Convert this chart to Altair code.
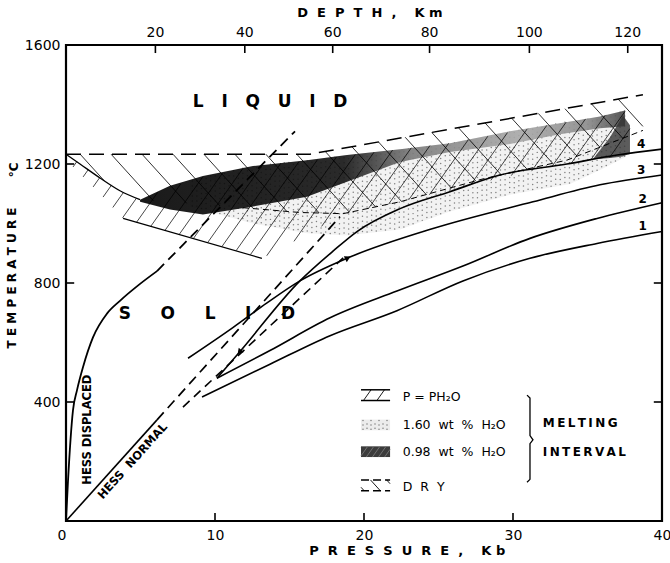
import math
import numpy as np
import pandas as pd
import altair as alt

FONT = "DejaVu Sans"
NB = "\u00a0"

# ---------------- axis data ----------------
P_LABELS = [0, 10, 20, 30, 40]
T_LABELS = [400, 800, 1200, 1600]
P_INNER_TICKS = [10, 20, 30]
T_INNER_TICKS = [400, 800, 1200]
DEPTH_LABELS = ["20", "40", "60", "80", "100", "120"]
DEPTH_P = [6.0, 12.0, 17.9, 24.4, 31.1, 37.7]

# ---------------- curves (pressure kb, temperature C) ----------------
HD_P = [0, 0.13, 0.47, 0.74, 1.14, 1.81, 2.75, 3.62, 4.97, 6.11]
HD_T = [0, 130, 373, 440, 517, 617, 697, 740, 797, 840]
HD_EXT_P = [6.11, 15.37]
HD_EXT_T = [840, 1310]
HN_P = [0, 6.11]
HN_T = [0, 340]
HN_EXT_P = [6.11, 18.39]
HN_EXT_T = [340, 1023]
B_P = [7.85, 18.72]
B_T = [383, 890]
C1_P = [9.13, 13.69, 17.72, 22.21, 26.64, 31.14, 35.64, 40]
C1_T = [417, 527, 623, 707, 807, 883, 933, 973]
C2_P = [10.13, 13.69, 17.72, 22.21, 26.64, 31.14, 35.64, 40]
C2_T = [480, 573, 683, 773, 857, 950, 1017, 1070]
C3_P = [8.19, 11.2, 13.49, 15.7, 18.86, 24.63, 31.34, 35.84, 40]
C3_T = [547, 650, 733, 807, 883, 983, 1073, 1130, 1163]
C4_P = [10.13, 11.68, 15.7, 17.92, 19.53, 22.42, 25.77, 29.13, 33.62, 36.98, 40]
C4_T = [480, 570, 807, 907, 973, 1050, 1107, 1163, 1200, 1230, 1250]
CURVE_NUM = ["1", "2", "3", "4"]
CURVE_NUM_P = [38.7, 38.7, 38.6, 38.6]
CURVE_NUM_T = [990, 1083, 1180, 1267]

DRY_LIQ_P = [0, 16.38, 38.72]
DRY_LIQ_T = [1233, 1233, 1433]
DRY_SOL_P = [11.88, 15.7, 18.59, 22.42, 27.99, 33.62, 38.72]
DRY_SOL_T = [1053, 1037, 1033, 1073, 1150, 1213, 1313]
WET_LIQ_P = [0, 0.94, 2.28, 3.62, 4.97]
WET_LIQ_T = [1233, 1200, 1153, 1110, 1080]
WET_SOL_P = [3.83, 13.15]
WET_SOL_T = [1017, 883]

# ---------------- melting intervals ----------------
DRY_P = [0, 0.94, 2.28, 3.62, 4.97, 11.88, 15.7, 16.38, 18.59, 22.42, 27.99, 33.62, 38.72]
DRY_TOP = [1233, 1233, 1233, 1233, 1233, 1233, 1233, 1233, 1253, 1287, 1337, 1387, 1433]
DRY_BOT = [1233, 1200, 1153, 1110, 1080, 1053, 1037, 1036, 1033, 1073, 1150, 1213, 1313]

WET_P = [0, 0.94, 2.28, 3.83, 4.97, 6.98, 9.19, 12.55, 13.15, 16.17, 18.59, 22.42, 25.77, 29.8, 33.15, 35.84, 37.85]
WET_TOP = [1233, 1200, 1153, 1107, 1080, 1123, 1157, 1190, 1197, 1210, 1227, 1250, 1270, 1307, 1337, 1360, 1380]
WET_BOT = [1213, 1167, 1100, 1017, 1000, 970, 940, 893, 883, 963, 1030, 1073, 1113, 1160, 1197, 1217, 1233]

D98_P = [4.97, 6.98, 9.19, 12.55, 16.17, 18.86, 22.42, 25.77, 29.8, 33.15, 35.84, 37.52]
D98_TOP = [1080, 1127, 1160, 1193, 1213, 1230, 1250, 1270, 1310, 1337, 1360, 1380]
D98_BOT = [1073, 1047, 1030, 1057, 1090, 1140, 1207, 1240, 1267, 1300, 1320, 1327]
D98B_P = [35.37, 36.51, 37.38, 37.85]
D98B_TOP = [1217, 1290, 1363, 1330]
D98B_BOT = [1215, 1220, 1225, 1235]

S160_P = [8.32, 12.55, 16.17, 18.86, 22.42, 25.77, 29.8, 33.83, 35.84, 37.52]
S160_TOP = [1147, 1193, 1213, 1230, 1250, 1270, 1310, 1343, 1360, 1380]
S160_BOT = [1057, 1000, 967, 960, 980, 1040, 1097, 1133, 1180, 1223]

# ---------------- legend ----------------
LEG_TEXT = ["P = PH\u2082O", "1.60  wt  %  H\u2082O", "0.98  wt  %  H\u2082O", "D  R  Y"]
LEG_TEXT_T = [417, 323, 233, 113]
LEG_ROW_T = [423, 323, 233, 120]
LEG_P = [19.8, 21.75]
LEG_TEXT_P = 22.6
BRACE_P = [30.94, 31.14, 31.14, 31.34, 31.14, 31.14, 30.94]
BRACE_T = [423, 413, 287, 273, 260, 140, 130]

SX, SY = 14.9, 0.3  # px per kb, px per degree (shape of hatching)

XS = alt.Scale(domain=[0, 40], nice=False, zero=False)
YS = alt.Scale(domain=[0, 1600], nice=False, zero=False)
XAX = alt.Axis(values=P_LABELS, ticks=False, domain=False, grid=False, format="d",
               labelFont=FONT, labelFontSize=14, labelPadding=7,
               labelAlign={"condition": {"test": "datum.value == 0", "value": "right"}, "value": "center"},
               labelFlush=False, labelColor="black", title=None)
YAX = alt.Axis(values=T_LABELS, ticks=False, domain=False, grid=False, format="d",
               labelFont=FONT, labelFontSize=14, labelPadding=6,
               labelFlush=False, labelColor="black", title=None)


def sp(s):
    return s.replace(" ", NB)


def X(f="P"):
    return alt.X(f + ":Q", scale=XS, axis=XAX)


def Y(f="T"):
    return alt.Y(f + ":Q", scale=YS, axis=YAX)


def line_layer(P, T, dash=None, width=1.6, interp="monotone", color="black"):
    df = pd.DataFrame({"P": P, "T": T, "o": list(range(len(P)))})
    kw = dict(color=color, strokeWidth=width, interpolate=interp)
    if dash:
        kw["strokeDash"] = dash
    return alt.Chart(df).mark_line(**kw).encode(x=X(), y=Y(), order="o:Q")


def area_layer(P, top, bot, **style):
    df = pd.DataFrame({"P": P, "T": top, "T2": bot})
    return alt.Chart(df).mark_area(**style).encode(x=X(), y=Y(), y2="T2:Q")


def hatch(P, top, bot, angle_deg, spacing, phase=0.0):
    poly = [(p * SX, t * SY) for p, t in zip(P, top)] + \
           [(p * SX, t * SY) for p, t in zip(P[::-1], bot[::-1])]
    a = math.radians(angle_deg)
    dx, dy = math.cos(a), math.sin(a)
    nx, ny = -dy, dx
    proj = [x * nx + y * ny for x, y in poly]
    lo, hi = min(proj), max(proj)
    k = math.ceil((lo - phase) / spacing)
    n = len(poly)
    rows = []
    while phase + k * spacing < hi:
        c = phase + k * spacing
        hits = []
        for i in range(n):
            x1, y1 = poly[i]
            x2, y2 = poly[(i + 1) % n]
            p1, p2 = proj[i], proj[(i + 1) % n]
            if (p1 <= c < p2) or (p2 <= c < p1):
                t = (c - p1) / (p2 - p1)
                x = x1 + t * (x2 - x1)
                y = y1 + t * (y2 - y1)
                hits.append((x * dx + y * dy, x, y))
        hits.sort()
        for j in range(0, len(hits) - 1, 2):
            _, xa, ya = hits[j]
            _, xb, yb = hits[j + 1]
            rows.append({"P": xa / SX, "T": ya / SY, "P2": xb / SX, "T2": yb / SY})
        k += 1
    return pd.DataFrame(rows, columns=["P", "T", "P2", "T2"])


def hatch_layer(df, width=0.9, color="black", opacity=0.9):
    return alt.Chart(df).mark_rule(color=color, strokeWidth=width, opacity=opacity).encode(
        x=X(), y=Y(), x2="P2:Q", y2="T2:Q")


def stipple(P, top, bot, step=4.6):
    xs = np.array(P) * SX
    tp = np.array(top) * SY
    bt = np.array(bot) * SY
    rows = []
    col = 0
    x = xs.min() + step / 2
    while x < xs.max():
        yt = np.interp(x, xs, tp)
        yb = np.interp(x, xs, bt)
        y = yb + (step / 2 if col % 2 else step / 4)
        while y < yt:
            rows.append({"P": x / SX, "T": y / SY})
            y += step * 1.1
        x += step
        col += 1
    return pd.DataFrame(rows)


def text_layer(df, **style):
    base = dict(font=FONT, color="black")
    base.update(style)
    df = df.copy()
    df["text"] = df["text"].map(sp)
    return alt.Chart(df).mark_text(**base).encode(x=X(), y=Y(), text="text:N")


layers = []

# axes carrier
axis_df = pd.DataFrame({"P": [0, 40], "T": [0, 1600]})
layers.append(alt.Chart(axis_df).mark_point(opacity=0).encode(x=X(), y=Y()))

# stippled 1.60 wt% region
layers.append(area_layer(S160_P, S160_TOP, S160_BOT, color="#f2f2f2"))
layers.append(alt.Chart(stipple(S160_P, S160_TOP, S160_BOT)).mark_circle(
    size=2.2, color="#222", opacity=0.55).encode(x=X(), y=Y()))

# 0.98 wt% region (dark)
dark_grad = alt.LinearGradient(
    gradient="linear",
    stops=[alt.GradientStop(color="#000000", offset=0),
           alt.GradientStop(color="#141414", offset=0.42),
           alt.GradientStop(color="#7a7a7a", offset=0.56),
           alt.GradientStop(color="#a8a8a8", offset=0.78),
           alt.GradientStop(color="#8c8c8c", offset=0.92),
           alt.GradientStop(color="#444444", offset=1)],
    x1=0, x2=1, y1=0, y2=0)
layers.append(area_layer(D98_P, D98_TOP, D98_BOT, color=dark_grad, opacity=0.9))
layers.append(area_layer(D98B_P, D98B_TOP, D98B_BOT, color="#333333", opacity=0.8))

# hatching: P = PH2O  "/"  and DRY "\"
layers.append(hatch_layer(hatch(WET_P, WET_TOP, WET_BOT, 55, 14, 3), width=0.8))
layers.append(hatch_layer(hatch(DRY_P, DRY_TOP, DRY_BOT, -48, 23, 5), width=0.9))

# boundaries of melting intervals
layers.append(line_layer(DRY_LIQ_P, DRY_LIQ_T, dash=[15, 8], width=1.5, interp="linear"))
layers.append(line_layer(DRY_SOL_P, DRY_SOL_T, dash=[6, 4], width=1.0, interp="linear"))
layers.append(line_layer(WET_LIQ_P, WET_LIQ_T, width=1.3))
layers.append(line_layer(WET_SOL_P, WET_SOL_T, width=1.2, interp="linear"))

# Hess geotherms
layers.append(line_layer(HD_P, HD_T, width=1.8))
layers.append(line_layer(HD_EXT_P, HD_EXT_T, dash=[10, 6], width=1.8, interp="linear"))
layers.append(line_layer(HN_P, HN_T, width=1.6, interp="linear"))
layers.append(line_layer(HN_EXT_P, HN_EXT_T, dash=[10, 6], width=1.7, interp="linear"))
layers.append(line_layer(B_P, B_T, dash=[9, 6], width=1.6, interp="linear"))

# curves 1-4
for cp, ct in [(C1_P, C1_T), (C2_P, C2_T), (C3_P, C3_T), (C4_P, C4_T)]:
    layers.append(line_layer(cp, ct, width=1.6))

# arrowheads
arr = pd.DataFrame({"P": [18.86, 11.68], "T": [883, 570], "a": [64, 220]})
layers.append(alt.Chart(arr).mark_point(shape="triangle", filled=True, color="black", size=45, opacity=1).encode(
    x=X(), y=Y(), angle=alt.Angle("a:Q", scale=None)))

# inner ticks
tick_rows = []
for p in P_INNER_TICKS:
    tick_rows.append({"P": p, "T": 0, "P2": p, "T2": 27})
for t in T_INNER_TICKS:
    tick_rows.append({"P": 0, "T": t, "P2": 0.55, "T2": t})
    tick_rows.append({"P": 40, "T": t, "P2": 39.45, "T2": t})
for p in DEPTH_P:
    tick_rows.append({"P": p, "T": 1600, "P2": p, "T2": 1573})
layers.append(hatch_layer(pd.DataFrame(tick_rows), width=1.6, opacity=1))

# depth axis labels
layers.append(text_layer(pd.DataFrame({"P": DEPTH_P, "T": [1600] * 6, "text": DEPTH_LABELS}),
                         fontSize=14, dy=-12, align="center", baseline="middle"))

# titles
layers.append(text_layer(pd.DataFrame({"P": [20.4], "T": [1600], "text": ["D  E  P  T  H  ,    K m"]}),
                         fontSize=13, fontWeight="bold", dy=-32, baseline="middle"))
layers.append(text_layer(pd.DataFrame({"P": [22.9], "T": [0], "text": ["P  R  E  S  S  U  R  E  ,    K b"]}),
                         fontSize=13, fontWeight="bold", dy=30, baseline="middle"))
layers.append(text_layer(pd.DataFrame({"P": [-3.6], "T": [817], "text": ["T E M P E R A T U R E"]}),
                         fontSize=12, fontWeight="bold", angle=270, baseline="middle"))
layers.append(text_layer(pd.DataFrame({"P": [-3.5], "T": [1180], "text": ["\u00b0C"]}),
                         fontSize=12, fontWeight="bold", angle=270, baseline="middle"))

# region labels
layers.append(text_layer(pd.DataFrame({"P": [13.7], "T": [1407], "text": ["L   I   Q   U   I   D"]}),
                         fontSize=17, fontWeight="bold", baseline="middle"))
layers.append(text_layer(pd.DataFrame({"P": [9.46], "T": [697], "text": ["S     O     L     I     D"]}),
                         fontSize=17, fontWeight="bold", baseline="middle"))
layers.append(text_layer(pd.DataFrame({"P": [1.5], "T": [307], "text": ["HESS DISPLACED"]}),
                         fontSize=11.5, fontWeight="bold", angle=270, baseline="middle"))
layers.append(text_layer(pd.DataFrame({"P": [4.5], "T": [200], "text": ["HESS  NORMAL"]}),
                         fontSize=11.5, fontWeight="bold", angle=312, baseline="middle"))
layers.append(text_layer(pd.DataFrame({"P": CURVE_NUM_P, "T": CURVE_NUM_T, "text": CURVE_NUM}),
                         fontSize=12, fontWeight="bold", baseline="middle"))

# legend symbols
h = 18
r1, r2, r3, r4 = LEG_ROW_T
layers.append(hatch_layer(pd.DataFrame([
    {"P": LEG_P[0], "T": r1 + h, "P2": LEG_P[1], "T2": r1 + h},
    {"P": LEG_P[0], "T": r1 - h, "P2": LEG_P[1], "T2": r1 - h}]), width=1.5, opacity=1))
layers.append(hatch_layer(hatch(LEG_P, [r1 + h] * 2, [r1 - h] * 2, 55, 11, 2), width=1.0))
layers.append(area_layer(LEG_P, [r2 + h] * 2, [r2 - h] * 2, color="#ececec"))
layers.append(alt.Chart(stipple(LEG_P, [r2 + h] * 2, [r2 - h] * 2, 4.0)).mark_circle(
    size=2.2, color="#222", opacity=0.55).encode(x=X(), y=Y()))
layers.append(area_layer(LEG_P, [r3 + h] * 2, [r3 - h] * 2, color="#1a1a1a", opacity=0.85))
layers.append(hatch_layer(hatch(LEG_P, [r3 + h] * 2, [r3 - h] * 2, 55, 5, 1), width=1.0, color="#777"))
layers.append(line_layer(LEG_P, [r4 + h] * 2, dash=[8, 4], width=1.5, interp="linear"))
layers.append(line_layer(LEG_P, [r4 - h] * 2, dash=[8, 4], width=1.5, interp="linear"))
layers.append(hatch_layer(hatch(LEG_P, [r4 + h] * 2, [r4 - h] * 2, -48, 12, 2), width=1.0))

layers.append(text_layer(pd.DataFrame({"P": [LEG_TEXT_P] * 4, "T": LEG_TEXT_T, "text": LEG_TEXT}),
                         fontSize=12.5, align="left", baseline="middle"))
layers.append(line_layer(BRACE_P, BRACE_T, width=1.3, interp="linear"))
layers.append(text_layer(pd.DataFrame({"P": [32.0, 32.0], "T": [330, 233],
                                       "text": ["M\u2009E\u2009L\u2009T\u2009I\u2009N\u2009G",
                                                "I\u2009N\u2009T\u2009E\u2009R\u2009V\u2009A\u2009L"]}),
                         fontSize=12, fontWeight="bold", align="left", baseline="middle"))

chart = alt.layer(*layers).properties(
    width=596, height=476,
    padding={"left": 66, "top": 45, "right": 8, "bottom": 42},
    autosize=alt.AutoSizeParams(type="none"),
    background="white",
).configure_view(stroke="black", strokeWidth=2.2)

chart.save("out.html", embed_options={"renderer": "svg", "actions": False})
